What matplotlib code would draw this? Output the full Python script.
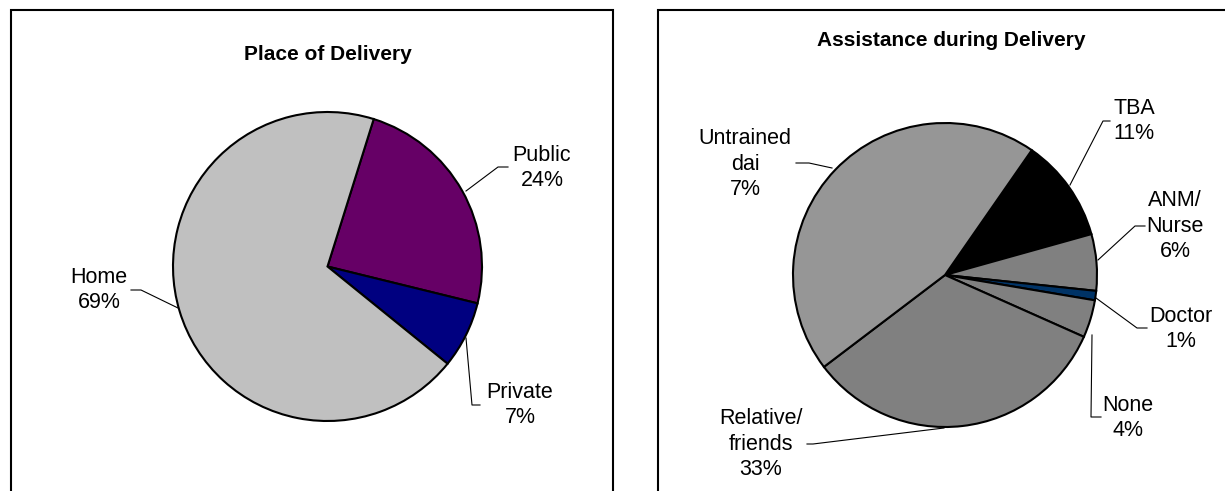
import matplotlib.pyplot as plt
from matplotlib.patches import Rectangle
from matplotlib.lines import Line2D

plt.rcParams['font.family'] = ['Liberation Sans', 'DejaVu Sans']

# place of delivery (%)
place_labels = ["Public", "Private", "Home"]
place_values = [24, 7, 69]
place_colors = ["#660066", "#000080", "#C0C0C0"]

# assistance during delivery (%)
assist_labels = ["TBA", "ANM/\nNurse", "Doctor", "None", "Relative/\nfriends", "Untrained\ndai"]
assist_values = [11, 6, 1, 4, 33, 45]
assist_pct = ["11%", "6%", "1%", "4%", "33%", "7%"]
assist_colors = ["#000000", "#808080", "#003366", "#808080", "#808080", "#969696"]

W, H = 1225, 491
fig = plt.figure(figsize=(W / 100, H / 100), dpi=100)


def fx(x):
    return x / W


def fy(y):
    return 1 - y / H


def pie_axes(cx, cy, r, half=300):
    ax = fig.add_axes([fx(cx - half), fy(cy + half), 2 * half / W, 2 * half / H])
    ax.set_xlim(-half / r, half / r)
    ax.set_ylim(-half / r, half / r)
    ax.axis('off')
    return ax


def box(x0, y0, x1, y1):
    fig.add_artist(Rectangle((fx(x0), fy(y1)), fx(x1) - fx(x0), fy(y0) - fy(y1),
                             transform=fig.transFigure, fill=False,
                             edgecolor='black', linewidth=1.5, clip_on=False))


def leader(pts):
    xs = [fx(p[0]) for p in pts]
    ys = [fy(p[1]) for p in pts]
    fig.add_artist(Line2D(xs, ys, transform=fig.transFigure, color='black',
                          linewidth=0.8))


def label(x, y, s):
    fig.text(fx(x), fy(y), s, ha='center', va='center', multialignment='center',
             fontsize=15.5, linespacing=1.3)


# panel frames
box(11, 10, 613, 520)
box(658, 10, 1260, 520)

# left pie
ax1 = pie_axes(327.5, 266.5, 154.5)
ax1.pie(place_values, colors=place_colors, startangle=72.6, counterclock=False,
        radius=1, wedgeprops=dict(edgecolor='black', linewidth=1.5))
ax1.set_xlim(-300 / 154.5, 300 / 154.5)
ax1.set_ylim(-300 / 154.5, 300 / 154.5)
fig.text(fx(328), fy(54), "Place of Delivery", ha='center', va='center',
         fontsize=15, fontweight='bold')

place_pos = [(542, 168), (520, 405), (99, 290)]
place_lines = [[(466, 191), (498, 167), (508, 167)],
               [(466, 338), (472, 405), (480, 405)],
               [(178, 308), (141, 290), (131, 290)]]
for name, v, pos, pts in zip(place_labels, place_values, place_pos, place_lines):
    label(pos[0], pos[1], f"{name}\n{v}%")
    leader(pts)

# right pie
ax2 = pie_axes(945, 275, 152)
ax2.pie(assist_values, colors=assist_colors, startangle=55.2, counterclock=False,
        radius=1, wedgeprops=dict(edgecolor='black', linewidth=1.5))
ax2.set_xlim(-300 / 152, 300 / 152)
ax2.set_ylim(-300 / 152, 300 / 152)
fig.text(fx(951), fy(40), "Assistance during Delivery", ha='center', va='center',
         fontsize=15, fontweight='bold')

assist_pos = [(1134, 121), (1175, 226), (1181, 329), (1128, 418), (761, 444), (745, 164)]
assist_lines = [[(1070, 185), (1103, 121), (1110, 121)],
                [(1098, 260), (1135, 226), (1145, 226)],
                [(1096, 298), (1137, 328), (1147, 328)],
                [(1092, 335), (1091, 417), (1101, 417)],
                [(944, 428), (813, 444), (807, 444)],
                [(832, 168), (809, 163), (796, 163)]]
for name, p, pos, pts in zip(assist_labels, assist_pct, assist_pos, assist_lines):
    label(pos[0], pos[1], f"{name}\n{p}")
    leader(pts)

fig.savefig("out.png", dpi=100, facecolor='white')
